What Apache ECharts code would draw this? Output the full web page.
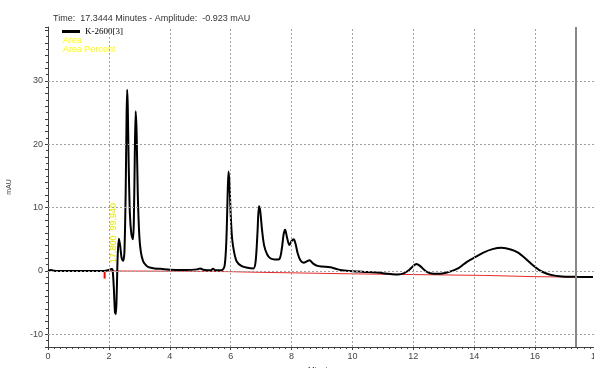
<!DOCTYPE html>
<html><head><meta charset="utf-8">
<script src="https://cdn.jsdelivr.net/npm/echarts@6/dist/echarts.min.js"></script>
<style>html,body{margin:0;padding:0;background:#fff;}#c{width:594px;height:368px;}</style>
</head><body><div id="c"></div>
<script>
// Chromatogram trace: [minutes, mAU]
const traceTimes = [0.0,0.1,0.2,0.3,1.0,1.8,1.9,2.0,2.08,2.12,2.16,2.2,2.23,2.26,2.29,2.33,2.37,2.42,2.47,2.51,2.55,2.58,2.60,2.62,2.65,2.69,2.74,2.79,2.82,2.85,2.88,2.91,2.95,3.0,3.05,3.12,3.2,3.3,3.5,3.7,4.0,4.5,4.9,5.0,5.1,5.35,5.42,5.5,5.7,5.8,5.86,5.9,5.93,5.96,6.0,6.05,6.12,6.2,6.35,6.55,6.75,6.82,6.88,6.93,6.97,7.03,7.1,7.2,7.3,7.45,7.6,7.68,7.74,7.79,7.85,7.93,8.0,8.07,8.13,8.2,8.29,8.4,8.5,8.59,8.7,8.85,9.0,9.27,9.45,9.6,9.9,10.4,11.0,11.3,11.5,11.7,11.85,11.98,12.1,12.22,12.4,12.55,12.8,13.0,13.2,13.5,13.75,14.0,14.3,14.6,14.9,15.2,15.44,15.7,15.93,16.15,16.37,16.6,16.8,17.0,17.34,17.9];
const traceValues = [0,0.15,0.05,0,0,0,0.05,0.15,0.3,0.2,-2.5,-6.5,-6.8,-3,2.5,5.1,4.0,2.0,1.6,3.0,12,24,28.6,26,17,9,5.8,5.0,8,18,25.2,22,12,5.5,3.0,1.6,1.0,0.6,0.4,0.35,0.2,0.15,0.25,0.4,0.2,0.1,0.35,0.1,0.1,0.8,5,12,15.7,14,9,5,2.8,1.5,0.8,0.5,0.4,1.5,6,10.2,9.5,6.5,4.0,2.6,2.0,1.8,1.9,3.5,5.8,6.5,5.3,4.1,4.7,5.0,4.3,2.8,1.7,1.3,1.5,1.7,1.2,0.8,0.7,0.6,0.35,0.15,0,-0.15,-0.35,-0.5,-0.55,-0.35,0.1,0.7,1.1,0.8,0.0,-0.35,-0.45,-0.35,-0.1,0.5,1.4,2.1,2.9,3.45,3.65,3.4,2.9,1.9,0.9,0.1,-0.4,-0.7,-0.85,-0.9,-0.923,-0.95];
// Integration baseline (red)
const baseTimes = [1.9,2.1,4.5,5.9,6.8,6.82,9.9,12.5,14.3,14.32,16.0,17.9];
const baseValues = [0,0,-0.05,-0.1,-0.2,-0.35,-0.45,-0.6,-0.7,-0.85,-0.9,-1.0];
// Integration start marker
const markTimes = [1.86,1.86];
const markValues = [0,-1.2];
// Axes
const xTicks = [0,2,4,6,8,10,12,14,16,18];
const yGridValues = [-10,0,10,20,30];
const xGridValues = [2,4,6,8,10,12,14,16];
const cursorTime = 17.3444;
const cursorAmp = -0.923;
const seriesName = 'K-2600[3]';
const peakLabel = '17.800  99.940';

const zip = (a,b)=>a.map((v,i)=>[v,b[i]]);
const chart = echarts.init(document.getElementById('c'), null, {renderer:'canvas'});
const font = 'Liberation Sans, Arial, sans-serif';
chart.setOption({
  animation:false,
  textStyle:{fontFamily:font},
  grid:{left:48,right:-2,top:27,bottom:21,containLabel:false,outerBoundsMode:'none'},
  title:{text:'Time:  ' + cursorTime + ' Minutes - Amplitude:  ' + cursorAmp + ' mAU', left:48, top:9,
    textStyle:{fontSize:9,fontWeight:'normal',color:'#333',fontFamily:font}},
  legend:{data:[seriesName], left:57, top:22, itemWidth:18, itemHeight:3, icon:'rect', itemGap:4,
    textStyle:{fontSize:9,color:'#000',fontFamily:'Liberation Serif, serif'}},
  graphic:[
    {type:'text', left:63, top:36, style:{text:'Area', fill:'#ffff00', font:'9px '+font}},
    {type:'text', left:63, top:45, style:{text:'Area Percent', fill:'#ffff00', font:'9px '+font}},
    {type:'text', x:114, y:263, rotation:Math.PI/2, style:{text:peakLabel, fill:'#e6e600', font:'9px '+font, textAlign:'left', textVerticalAlign:'middle'}}
  ],
  xAxis:{type:'value', min:0, max:18, interval:2, name:'Minutes', nameLocation:'middle', nameGap:14,
    nameTextStyle:{fontSize:8,color:'#333'},
    axisLine:{onZero:false,lineStyle:{color:'#404040',width:1}},
    axisTick:{length:3,lineStyle:{color:'#404040'}},
    minorTick:{show:true,splitNumber:10,length:2,lineStyle:{color:'#404040'}},
    axisLabel:{fontSize:9,color:'#444',margin:5,formatter:v=>xTicks.includes(v)?String(v):''},
    splitLine:{show:false}},
  yAxis:{type:'value', min:-12, max:38.5, interval:2, name:'mAU', nameLocation:'middle', nameGap:35, nameRotate:90,
    nameTextStyle:{fontSize:7,color:'#444'},
    axisLine:{show:true,onZero:false,lineStyle:{color:'#404040',width:1}},
    axisTick:{show:true,length:3,lineStyle:{color:'#404040'}},
    minorTick:{show:true,splitNumber:2,length:2,lineStyle:{color:'#404040'}},
    axisLabel:{fontSize:9,color:'#444',margin:5,showMaxLabel:false,formatter:v=>(v%10===0)?String(v):''},
    splitLine:{show:false}},
  series:[
    {type:'line', name:'grid', data:[], silent:true, showSymbol:false,
      markLine:{silent:true,symbol:'none',label:{show:false},animation:false,
        lineStyle:{color:'#a0a0a0',type:[2,2],width:1},
        data:[...yGridValues.map(v=>({yAxis:v})), ...xGridValues.map(v=>({xAxis:v}))]}},
    {type:'line', name:'baseline', data:zip(baseTimes,baseValues), showSymbol:false, silent:true,
      lineStyle:{color:'#e82828',width:1}, z:3},
    {type:'line', name:'mark', data:zip(markTimes,markValues), showSymbol:false, silent:true,
      lineStyle:{color:'#ff0000',width:2}, z:3},
    {type:'line', name:seriesName, data:zip(traceTimes,traceValues), showSymbol:false, smooth:0.3,
      lineStyle:{color:'#000',width:2}, itemStyle:{color:'#000'}, z:4,
      markLine:{silent:true,symbol:'none',label:{show:false},animation:false,
        lineStyle:{color:'#888',type:'solid',width:2},
        data:[{xAxis:cursorTime}]}}
  ]
});
</script></body></html>
